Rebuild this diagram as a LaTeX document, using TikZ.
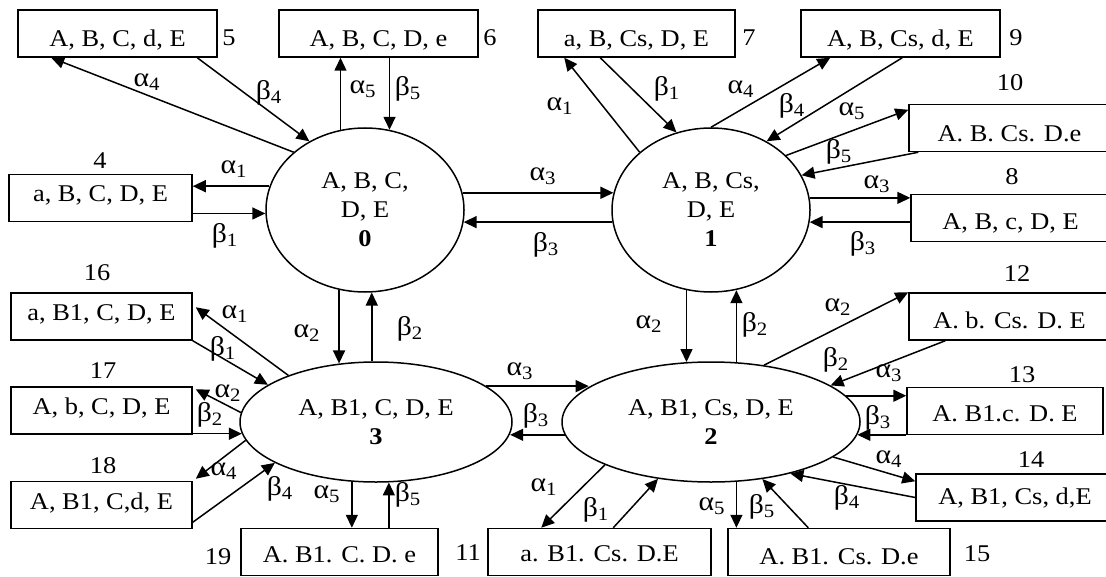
\documentclass[tikz,border=0pt]{standalone}
\usepackage{fontspec}
\setmainfont[FakeStretch=1.1]{Liberation Serif}
\usetikzlibrary{calc,arrows.meta,shapes.geometric}
\newcommand{\alp}[1]{α\textsubscript{#1}}
\newcommand{\bet}[1]{β\textsubscript{#1}}

\begin{document}
\begin{tikzpicture}[x=0.5pt, y=-0.5pt, line width=0.75pt, font=\fontsize{12}{14.5}\selectfont,
  box/.style={draw, rectangle, inner sep=0pt, minimum height=23.5pt, text depth=2pt, text height=#1},
  box/.default=14pt,
  state/.style={draw, ellipse, inner sep=0pt, align=center},
  num/.style={inner sep=0pt},
  lbl/.style={inner sep=0pt, font=\fontsize{13.5}{15}\selectfont},
  arr/.style={-{Triangle[length=6.5pt,width=6pt]}}]
\useasboundingbox (0,0) rectangle (1106,577);

% states
\node[state, minimum width=99pt, minimum height=82pt] (e0) at (365,210) {A, B, C,\\D, E\\\textbf{0}};
\node[state, minimum width=99pt, minimum height=82pt] (e1) at (711,210) {A, B, Cs,\\D, E\\\textbf{1}};
\node[state, minimum width=136pt, minimum height=60pt] (e3) at (376,422) {A, B1, C, D, E\\\textbf{3}};
\node[state, minimum width=149pt, minimum height=60pt] (e2) at (711,422) {A, B1, Cs, D, E\\\textbf{2}};

% boxes
\node[box=5.5pt, minimum width=91.5pt] (b4) at (100.5,198) {a, B, C, D, E};
\node[box=15pt, minimum width=99.5pt] (b5) at (117.5,33.5) {A, B, C, d, E};
\node[box=15pt, minimum width=99.5pt] (b6) at (378.5,33.5) {A, B, C, D, e};
\node[box=15pt, minimum width=98.5pt] (b7) at (636.5,33.5) {a, B, Cs, D, E};
\node[box=15pt, minimum width=99.5pt] (b9) at (900.5,33.5) {A, B, Cs, d, E};
\node[box=15.4pt, minimum width=100.5pt] (b10) at (1009.5,128) {A. B. Cs. D.e};
\node[box=13.4pt, minimum width=99.5pt] (b8) at (1010.5,218) {A, B, c, D, E};
\node[box=14.4pt, minimum width=100.5pt] (b12) at (1009.5,316.5) {A. b. Cs. D. E};
\node[box=12.9pt, minimum width=98pt] (b13) at (1005,411) {A. B1.c. D. E};
\node[box=8.9pt, minimum width=99pt] (b14) at (1015,497.5) {A, B1, Cs, d,E};
\node[box=14.4pt, minimum width=111pt] (b15) at (839,552) {A. B1. Cs. D.e};
\node[box=11.4pt, minimum width=111.5pt] (b11) at (599.5,552) {a. B1. Cs. D.E};
\node[box=12.9pt, minimum width=98.5pt] (b19) at (339.5,552) {A. B1. C. D. e};
\node[box=6.4pt, minimum width=90.5pt] (b16) at (101.5,316.5) {a, B1, C, D, E};
\node[box=5.9pt, minimum width=90.5pt] (b17) at (101.5,410.5) {A, b, C, D, E};
\node[box=6.4pt, minimum width=90.5pt] (b18) at (101.5,505) {A, B1, C,d, E};

% numbers
\node[num] (n4) at (100,161) {4};
\node[num] (n5) at (229,38) {5};
\node[num] (n6) at (490,38) {6};
\node[num] (n7) at (749,38) {7};
\node[num] (n9) at (1016,38) {9};
\node[num] (n10) at (1010,83) {10};
\node[num] (n8) at (1012,177) {8};
\node[num] (n12) at (1017,274) {12};
\node[num] (n13) at (1022,375) {13};
\node[num] (n14) at (1031,460) {14};
\node[num] (n15) at (977,554) {15};
\node[num] (n11) at (468,553) {11};
\node[num] (n19) at (218,557) {19};
\node[num] (n16) at (97,273) {16};
\node[num] (n17) at (103,371) {17};
\node[num] (n18) at (103,466) {18};

% state 0
\draw[arr] (e0.141) -- ($(b5.south west)+(34,0)$) node[lbl] (la05) at (147,82) {\alp4};
\draw[arr] ($(b5.south west)+(180,0)$) -- (e0.129) node[lbl] (lb50) at (269,93) {\bet4};
\draw[arr] (e0.107) -- (e0.107 |- b6.south) node[lbl] (la06) at (363,89) {\alp5};
\draw[arr] (e0.73 |- b6.south) -- (e0.73) node[lbl] (lb60) at (408,89) {\bet5};
\draw[arr] (e0.166) -- (e0.166 -| b4.east) node[lbl] (la04) at (234,169) {\alp1};
\draw[arr] (e0.182 -| b4.east) -- (e0.182) node[lbl] (lb40) at (225,236) {\bet1};
\draw[arr] (e0.10) -- (e1.170) node[lbl] (la01) at (543,176) {\alp3};
\draw[arr] (e1.187) -- (e0.353) node[lbl] (lb10) at (546,245) {\bet3};
\draw[arr] (e0.252) -- (e0.252 |- e3.122) node[lbl] (la03) at (307,333) {\alp2};
\draw[arr] (e3.94) -- (e3.94 |- e0.275) node[lbl] (lb30) at (410,329) {\bet2};

% state 1
\draw[arr] (e1.141) -- ($(b7.south west)+(27,0)$) node[lbl] (la17) at (560,106) {\alp1};
\draw[arr] ($(b7.south west)+(63,0)$) -- (e1.114) node[lbl] (lb71) at (667,89) {\bet1};
\draw[arr] (e1.90) -- ($(b9.south west)+(30,0)$) node[lbl] (la19) at (741,89) {\alp4};
\draw[arr] ($(b9.south west)+(102,0)$) -- (e1.51) node[lbl] (lb91) at (792,106) {\bet4};
\draw[arr] (e1.36) -- ($(b10.north west)+(0,6)$) node[lbl] (la110) at (852,111) {\alp5};
\draw[arr] ($(b10.south west)+(10,0)$) -- (e1.21) node[lbl] (lb101) at (839,152) {\bet5};
\draw[arr] (e1.7) -- (e1.7 -| b8.west) node[lbl] (la18) at (877,184) {\alp3};
\draw[arr] (e1.353 -| b8.west) -- (e1.353) node[lbl] (lb81) at (863,244) {\bet3};
\draw[arr] (e1.253) -- (e1.253 |- e2.112) node[lbl] (la12) at (649,324) {\alp2};
\draw[arr] (e2.67) -- (e2.67 |- e1.287) node[lbl] (lb21) at (755,325) {\bet2};

% state 3
\draw[arr] (e3.152) -- ($(b16.north east)+(3,15)$) node[lbl] (la316) at (235,314) {\alp1};
\draw[arr] (b16.south east) -- (e3.161) node[lbl] (lb163) at (223,349) {\bet1};
\draw[arr] (e3.176) -- ($(b17.north east)+(3,3)$) node[lbl] (la317) at (228,393) {\alp2};
\draw[arr] (e3.185 -| b17.east) -- (e3.185) node[lbl] (lb173) at (210,415) {\bet2};
\draw[arr] (e3.188) -- ($(b18.north east)+(3,-2)$) node[lbl] (la318) at (224,471) {\alp4};
\draw[arr] ($(b18.south east)+(0,-7)$) -- (e3.202) node[lbl] (lb183) at (280,489) {\bet4};
\draw[arr] (e3.248) -- (e3.248 |- b19.north) node[lbl] (la319) at (327,494) {\alp5};
\draw[arr] (e3.282 |- b19.north) -- (e3.282) node[lbl] (lb193) at (408,495) {\bet5};
\draw[arr] (e3.18) -- (e3.18 -| e2.164) node[lbl] (la32) at (520,371) {\alp3};
\draw[arr] (e2.185) -- (e2.185 -| e3.355) node[lbl] (lb23) at (536,416) {\bet3};

% state 2
\draw[arr] (e2.47) -- (b12.north west) node[lbl] (la212) at (838,307) {\alp2};
\draw[arr] ($(b12.south west)+(37,0)$) -- (e2.17) node[lbl] (lb122) at (836,360) {\bet2};
\draw[arr] (e2.11) -- (e2.11 -| b13.west) node[lbl] (la213) at (889,373) {\alp3};
\draw[arr] (e2.355 -| b13.west) -- (e2.355) node[lbl] (lb132) at (878,418) {\bet3};
\draw[arr] (e2.344) -- ($(b14.north west)+(0,8)$) node[lbl] (la214) at (889,459) {\alp4};
\draw[arr] (b14.west) -- (e2.327) node[lbl] (lb142) at (847,498) {\bet4};
\draw[arr] (e2.293) -- (e2.293 |- b15.north) node[lbl] (la215) at (712,506) {\alp5};
\draw[arr] ($(b15.north west)+(81,0)$) -- (e2.312) node[lbl] (lb152) at (762,507) {\bet5};
\draw[arr] (e2.202) -- ($(b11.north west)+(54,0)$) node[lbl] (la211) at (544,487) {\alp1};
\draw[arr] ($(b11.north west)+(126,0)$) -- (e2.227) node[lbl] (lb112) at (596,510) {\bet1};
\end{tikzpicture}
\end{document}
